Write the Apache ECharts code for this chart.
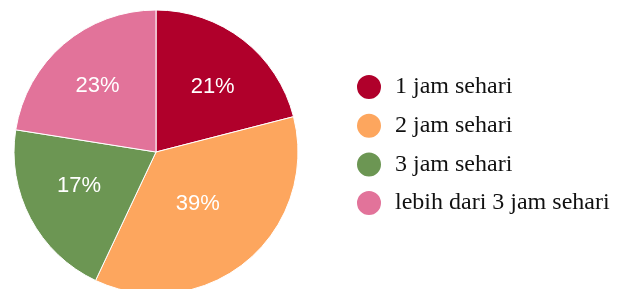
<!DOCTYPE html>
<html>
<head>
<meta charset="utf-8">
<script src="https://cdn.jsdelivr.net/npm/echarts@6/dist/echarts.min.js"></script>
<style>
  html, body { margin: 0; padding: 0; background: #fff; }
  #chart { width: 618px; height: 289px; }
</style>
</head>
<body>
<div id="chart"></div>
<script>
const categories = ['1 jam sehari', '2 jam sehari', '3 jam sehari', 'lebih dari 3 jam sehari']
// slice sizes as drawn in the picture (the printed labels don't quite match them)
const values = [21, 36, 20.5, 22.5]
const labelTexts = ['21%', '39%', '17%', '23%']
const colors = ['#b0002b', '#fda65e', '#6c9653', '#e2739a']
// label nudges in px: [dx, dy]
const labelShift = [[1.5, 6.5], [-15.5, -17], [2.5, -8], [0, 2.5]]

const chart = echarts.init(document.getElementById('chart'))

const center = [156, 152]

// horizontal nudge through padding, vertical through an empty line + lineHeight
function labelFor(i) {
  const dx = labelShift[i][0]
  const dy = labelShift[i][1]
  let text = labelTexts[i]
  let lh = 22
  if (dy < -0.5) {
    text = text + '\n '
    lh = -2 * dy
  } else if (dy > 0.5) {
    text = ' \n' + text
    lh = 2 * dy
  }
  return {
    formatter: text,
    lineHeight: lh,
    padding: [0, dx < 0 ? -2 * dx : 0, 0, dx > 0 ? 2 * dx : 0]
  }
}

chart.setOption({
  animation: false,
  color: colors,
  legend: {
    orient: 'vertical',
    left: 350,
    top: 68,
    icon: 'circle',
    itemWidth: 26,
    itemHeight: 26,
    itemGap: 10.7,
    data: categories,
    textStyle: {
      fontFamily: 'Liberation Serif',
      fontSize: 24,
      lineHeight: 26,
      color: '#111',
      padding: [0, 0, 0, 8]
    }
  },
  series: [
    {
      name: 'pie',
      type: 'pie',
      center: center,
      radius: [0, 142],
      startAngle: 90,
      clockwise: true,
      itemStyle: { borderColor: '#fff', borderWidth: 1 },
      label: { show: false },
      labelLine: { show: false },
      emphasis: { disabled: true },
      data: categories.map((name, i) => ({ name: name, value: values[i] }))
    },
    {
      // invisible copy, only to place the % labels further out
      name: 'labels',
      type: 'pie',
      center: center,
      radius: [0, 174],
      startAngle: 90,
      clockwise: true,
      silent: true,
      legendHoverLink: false,
      itemStyle: { color: 'rgba(0,0,0,0)', borderWidth: 0 },
      label: {
        show: true,
        position: 'inside',
        color: '#fff',
        fontFamily: 'Liberation Sans',
        fontSize: 22
      },
      labelLine: { show: false },
      emphasis: { disabled: true },
      data: categories.map((name, i) => ({
        name: name,
        value: values[i],
        label: labelFor(i)
      }))
    }
  ]
})
</script>
</body>
</html>
